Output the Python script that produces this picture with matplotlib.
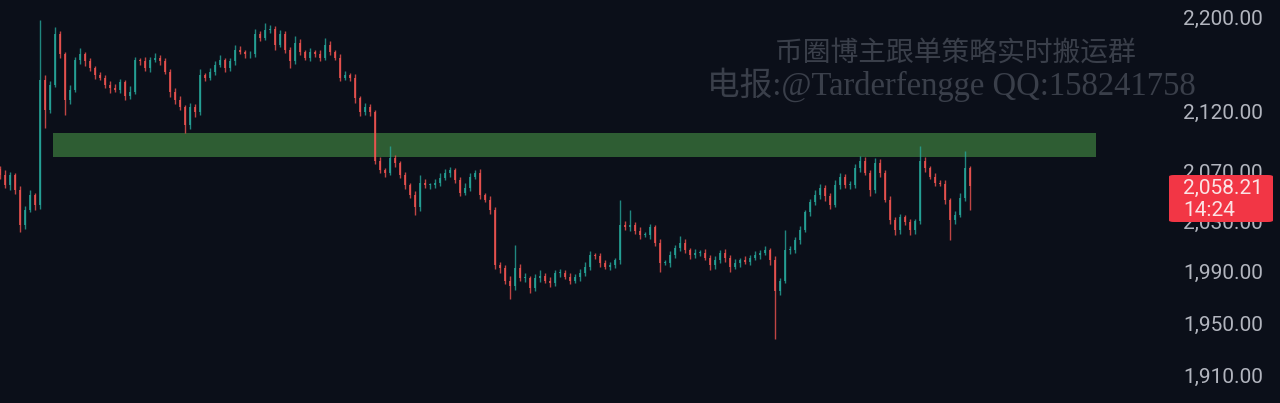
import numpy as np
import matplotlib.pyplot as plt
from matplotlib.patches import FancyBboxPatch
from matplotlib.ticker import FixedLocator, NullLocator

# closing prices, one candle per bucket
closes = [
    2067, 2059, 2067, 2055, 2027, 2039, 2051, 2043, 2146, 2121,
    2142, 2185, 2168, 2129, 2138, 2163, 2168, 2162, 2156, 2150,
    2148, 2142, 2139, 2138, 2144, 2133, 2136, 2163, 2162, 2156,
    2163, 2165, 2162, 2153, 2136, 2129, 2123, 2108, 2123, 2119,
    2150, 2148, 2153, 2159, 2163, 2156, 2162, 2172, 2170, 2168,
    2168, 2185, 2182, 2189, 2190, 2176, 2185, 2172, 2162, 2178,
    2170, 2165, 2170, 2168, 2165, 2176, 2170, 2165, 2148, 2150,
    2148, 2131, 2119, 2123, 2119, 2079, 2071, 2069, 2081, 2077,
    2067, 2059, 2051, 2041, 2061, 2059, 2059, 2061, 2065, 2069,
    2071, 2063, 2053, 2057, 2066, 2069, 2051, 2047, 2039, 1995,
    1993, 1983, 1979, 1993, 1985, 1985, 1977, 1985, 1987, 1983,
    1981, 1989, 1989, 1986, 1983, 1986, 1989, 1994, 2003, 2002,
    1997, 1994, 1995, 1999, 2027, 2025, 2027, 2022, 2019, 2019,
    2025, 2013, 1997, 1997, 2003, 2009, 2013, 2007, 2003, 2005,
    2005, 2001, 1995, 1999, 2005, 2001, 1994, 1997, 1999, 1998,
    2001, 2003, 2005, 2007, 1999, 1975, 1983, 2007, 2007, 2015,
    2023, 2037, 2045, 2051, 2057, 2050, 2043, 2059, 2066, 2059,
    2059, 2073, 2079, 2069, 2055, 2077, 2069, 2047, 2031, 2023,
    2033, 2029, 2023, 2030, 2079, 2073, 2066, 2061, 2060, 2047,
    2031, 2035, 2049, 2073, 2058.21,
]
first_open = 2072

# wick lengths above / below the body
up_wick = [
    3, 4, 3, 2, 3, 3, 4, 2, 51, 4,
    3, 6, 3, 2, 4, 3, 5, 2, 3, 2,
    3, 2, 3, 4, 3, 2, 5, 3, 2, 4,
    3, 4, 2, 3, 2, 3, 4, 2, 4, 3,
    5, 2, 3, 3, 4, 2, 3, 4, 3, 2,
    3, 5, 3, 6, 3, 2, 4, 3, 2, 6,
    3, 2, 3, 2, 4, 6, 3, 2, 3, 4,
    2, 3, 2, 4, 3, 2, 3, 2, 10, 3,
    2, 3, 2, 3, 6, 3, 2, 3, 4, 3,
    3, 2, 3, 4, 3, 2, 3, 2, 3, 2,
    3, 2, 4, 18, 3, 4, 2, 3, 4, 2,
    3, 2, 3, 2, 3, 2, 3, 4, 3, 2,
    3, 2, 3, 2, 20, 3, 12, 2, 3, 2,
    3, 2, 3, 2, 3, 2, 5, 3, 2, 3,
    2, 3, 2, 3, 2, 3, 2, 3, 2, 3,
    2, 3, 2, 3, 2, 3, 2, 16, 3, 2,
    3, 2, 3, 4, 3, 2, 3, 4, 3, 2,
    3, 3, 4, 3, 2, 4, 3, 2, 3, 2,
    3, 2, 3, 2, 12, 3, 2, 3, 2, 3,
    2, 3, 4, 14, 2,
]
low_wick = [
    3, 2, 4, 3, 6, 3, 2, 4, 3, 15,
    3, 2, 3, 12, 3, 2, 3, 4, 2, 3,
    2, 3, 4, 2, 3, 4, 3, 2, 3, 2,
    3, 2, 3, 2, 4, 3, 2, 6, 3, 4,
    2, 3, 2, 3, 2, 3, 2, 3, 2, 3,
    3, 2, 3, 2, 3, 4, 2, 3, 6, 2,
    3, 2, 3, 2, 3, 2, 3, 2, 3, 2,
    3, 4, 3, 2, 3, 3, 2, 3, 2, 3,
    2, 3, 2, 6, 3, 2, 3, 2, 3, 2,
    3, 2, 3, 2, 3, 2, 3, 2, 3, 3,
    4, 3, 10, 3, 2, 3, 4, 2, 3, 2,
    3, 2, 3, 2, 3, 2, 3, 2, 3, 2,
    3, 2, 3, 2, 3, 2, 3, 2, 3, 2,
    3, 3, 7, 2, 3, 2, 3, 2, 3, 2,
    3, 2, 4, 3, 2, 3, 4, 2, 3, 2,
    3, 2, 3, 2, 4, 37, 3, 2, 3, 2,
    3, 2, 3, 2, 3, 4, 3, 2, 3, 2,
    3, 2, 3, 2, 5, 2, 3, 2, 3, 4,
    3, 2, 4, 3, 2, 3, 2, 3, 2, 3,
    16, 3, 2, 3, 19,
]

price_ticks = [1910, 1950, 1990, 2030, 2070, 2120, 2200]
zone_low, zone_high = 2082, 2102
last_price = "2,058.21"
countdown = "14:24"
wm_line1 = "币圈博主跟单策略实时搬运群"
wm_line2 = "电报:@Tarderfengge QQ:158241758"

BG = "#0b0f19"
UP = "#26a69a"
DOWN = "#ef5350"

closes = np.array(closes, dtype=float)
opens = np.concatenate([[first_open], closes[:-1]])
highs = np.maximum(opens, closes) + np.array(up_wick)
lows = np.minimum(opens, closes) - np.array(low_wick)
idx = np.arange(len(closes))
colors = np.where(closes >= opens, UP, DOWN)

fig = plt.figure(figsize=(12.8, 4.03), dpi=100, facecolor=BG)
ax = fig.add_axes([0, 0, 1170 / 1280, 1])
ax.set_facecolor(BG)

# supply zone
ax.fill_between([10.6, 219.2], zone_low, zone_high, color="#2e5d33", lw=0, zorder=1)

# candles
ax.vlines(idx, lows, highs, colors=colors, lw=1.0, alpha=0.8, zorder=2)
body = np.abs(closes - opens)
body = np.maximum(body, 0.6)
ax.bar(idx, body, bottom=np.minimum(opens, closes), width=0.55,
       color=colors, alpha=0.8, lw=0, zorder=3)

ax.set_yscale("log")
ax.set_ylim(1889.7, 2214.8)
ax.set_xlim(0, 234)
ax.yaxis.set_major_locator(FixedLocator(price_ticks))
ax.yaxis.set_minor_locator(NullLocator())
ax.set_yticklabels([f"{p:,.2f}" for p in price_ticks])
ax.yaxis.tick_right()
ax.tick_params(axis="y", length=0, pad=9.4, labelcolor="#b2b5be", labelsize=15)
for lab in ax.get_yticklabels():
    lab.set_fontfamily("Roboto")
ax.set_xticks([])
for s in ax.spines.values():
    s.set_visible(False)

# watermark
wm_font = ["Liberation Serif", "Noto Sans CJK SC"]
fig.text(955 / 1280, 1 - 53 / 403, wm_line1, ha="center", va="center",
         fontsize=20, color="#3a3f4a", family=["Noto Sans CJK SC"])
fig.text(951 / 1280, 1 - 85 / 403, wm_line2, ha="center", va="center",
         fontsize=23.5, color="#3a3f4a", family=wm_font)

# last price tag
tag = FancyBboxPatch((1169 / 1280, 1 - 222 / 403), 104 / 1280, 47 / 403,
                     boxstyle="round,pad=0,rounding_size=0.004",
                     transform=fig.transFigure, facecolor="#f23645",
                     edgecolor="none", zorder=5)
fig.patches.append(tag)
fig.text(1183 / 1280, 1 - 188 / 403, last_price, ha="left", va="center",
         fontsize=15, color="#fbe3e5", family="Roboto", zorder=6)
fig.text(1183 / 1280, 1 - 210 / 403, countdown, ha="left", va="center",
         fontsize=15, color="#fbe3e5", family="Roboto", zorder=6)

fig.savefig("out.png", dpi=100, facecolor=BG)
